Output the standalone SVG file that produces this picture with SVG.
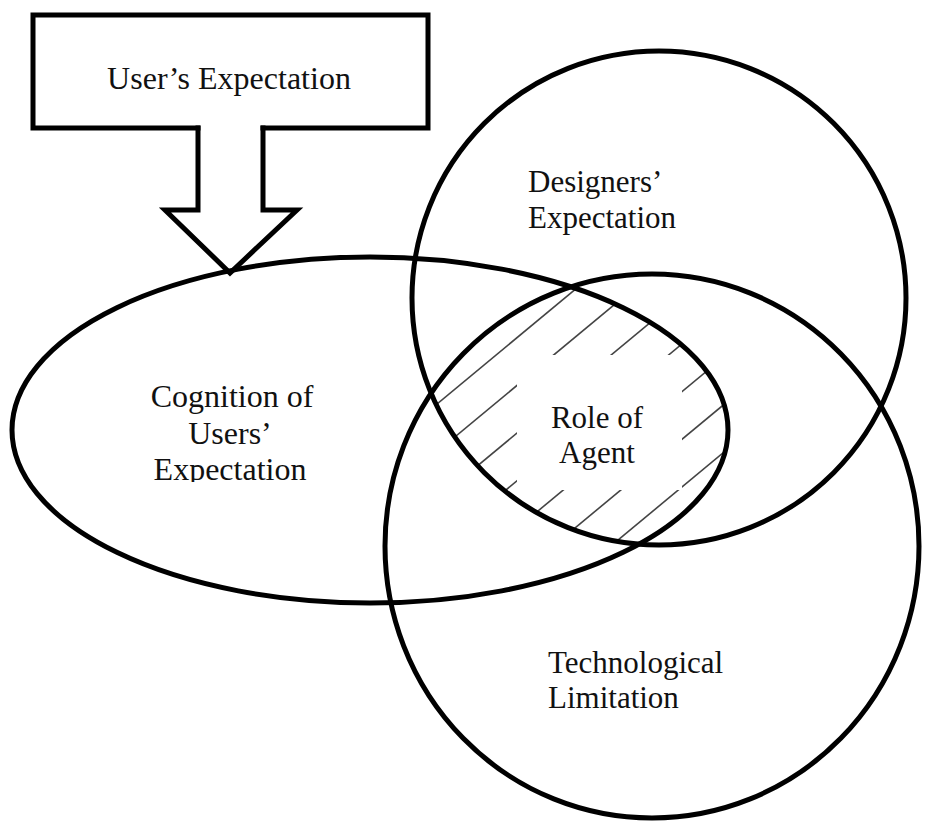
<svg xmlns="http://www.w3.org/2000/svg" width="929" height="823" viewBox="0 0 929 823">
  <style>
    .shape { fill: none; stroke: #000; stroke-width: 5; }
    .edge { fill: none; stroke: #000; stroke-width: 5; stroke-linecap: square; stroke-linejoin: miter; }
    .hatch { stroke: #444; stroke-width: 1.6; }
    .lbl { font-family: "Liberation Serif", "Times New Roman", serif; font-size: 31px; fill: #111; }
    .big { font-size: 32px; }
  </style>
  <defs>
    <clipPath id="clipCog"><ellipse cx="370" cy="430" rx="358" ry="173"/></clipPath>
    <clipPath id="clipDes"><circle cx="659" cy="298" r="247"/></clipPath>
    <clipPath id="clipTech"><ellipse cx="652" cy="546" rx="267" ry="272"/></clipPath>
    <clipPath id="clipCogText"><rect x="100" y="370" width="260" height="112"/></clipPath>
  </defs>
  <rect width="929" height="823" fill="#fff"/>

  <g id="role-of-agent">
    <g clip-path="url(#clipCog)">
      <g clip-path="url(#clipDes)">
        <g clip-path="url(#clipTech)" class="hatch">
          <line x1="400" y1="434.7" x2="780" y2="119.6"/>
          <line x1="400" y1="482.4" x2="780" y2="167.3"/>
          <line x1="400" y1="530.1" x2="780" y2="215.0"/>
          <line x1="400" y1="577.8" x2="780" y2="262.7"/>
          <line x1="400" y1="625.4" x2="780" y2="310.3"/>
          <line x1="400" y1="673.1" x2="780" y2="358.0"/>
          <line x1="400" y1="720.8" x2="780" y2="405.7"/>
        </g>
      </g>
    </g>
    <rect x="517" y="355" width="165" height="135" fill="#fff"/>
  </g>

  <g id="cognition">
    <ellipse class="shape" cx="370" cy="430" rx="358" ry="173"/>
    <g clip-path="url(#clipCogText)">
      <text class="lbl big" x="232" y="407" text-anchor="middle">Cognition of</text>
      <text class="lbl big" x="230" y="444" text-anchor="middle">Users’</text>
      <text class="lbl big" x="230" y="480" text-anchor="middle">Expectation</text>
    </g>
  </g>

  <g id="designers-expectation">
    <circle class="shape" cx="659" cy="298" r="247"/>
    <text class="lbl" x="528" y="192">Designers’</text>
    <text class="lbl" x="528" y="228">Expectation</text>
  </g>

  <g id="technological-limitation">
    <ellipse class="shape" cx="652" cy="546" rx="267" ry="272"/>
    <text class="lbl" x="548" y="673">Technological</text>
    <text class="lbl" x="548" y="708">Limitation</text>
  </g>

  <g id="role-of-agent-label">
    <text class="lbl" x="597" y="428" text-anchor="middle">Role of</text>
    <text class="lbl" x="597" y="463" text-anchor="middle">Agent</text>
  </g>

  <g id="users-expectation">
    <path class="edge" d="M198,128 H33 V15 H428 V128 H263"/>
    <text class="lbl big" x="229" y="89" text-anchor="middle">User’s Expectation</text>
  </g>

  <g id="connectors">
    <path class="edge" d="M198,128 V210 H165 L230,273 L297,210 H263 V128"/>
  </g>
</svg>
